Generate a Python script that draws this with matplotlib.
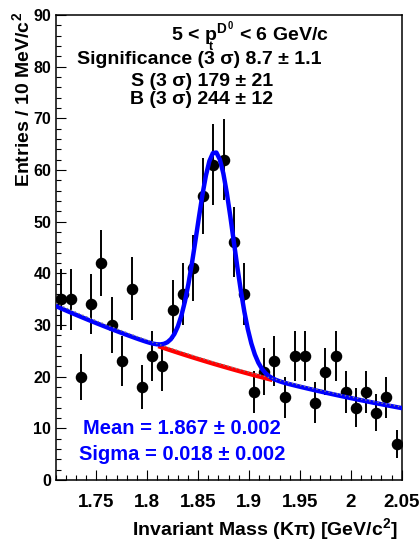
import numpy as np
import matplotlib
matplotlib.use("Agg")
import matplotlib.pyplot as plt
from matplotlib.ticker import MultipleLocator, FuncFormatter

plt.rcParams['font.family'] = ['Liberation Sans', 'DejaVu Sans']
plt.rcParams['font.weight'] = 'bold'
plt.rcParams['mathtext.fontset'] = 'custom'
plt.rcParams['mathtext.rm'] = 'Liberation Sans:bold'
plt.rcParams['mathtext.it'] = 'Liberation Sans:bold'
plt.rcParams['mathtext.bf'] = 'Liberation Sans:bold'

# K-pi invariant mass histogram, 10 MeV bins from 1.71 to 2.05
bin_lo, bin_hi, bin_w = 1.71, 2.05, 0.01
mass = np.round(np.arange(bin_lo + bin_w / 2, bin_hi, bin_w), 3)
counts = np.array([35, 35, 20, 34, 42, 30, 23, 37, 18, 24,
                   22, 33, 36, 41, 55, 61, 62, 46, 36, 17,
                   21, 23, 16, 24, 24, 15, 21, 24, 17, 14,
                   17, 13, 16, 7])
errors = np.sqrt(counts)

# gaussian + exponential background fit
fit_mean, fit_mean_err = 1.867, 0.002
fit_sigma, fit_sigma_err = 0.018, 0.002
sig_amp = 41.1
bkg_norm, bkg_slope = 33.7, -2.6
side_norm = 34.2  # sideband-only background

signif, signif_err = 8.7, 1.1
n_sig, n_sig_err = 179, 21
n_bkg, n_bkg_err = 244, 12


def bkg(m, norm=bkg_norm):
    return norm * np.exp(bkg_slope * (m - bin_lo))


def total(m):
    return bkg(m) + sig_amp * np.exp(-0.5 * ((m - fit_mean) / fit_sigma) ** 2)


W, H = 419, 541
fig = plt.figure(figsize=(W / 100, H / 100), dpi=100)
x0, x1, y0, y1 = 55.5, 401.7, 15, 480
ax = fig.add_axes([x0 / W, 1 - y1 / H, (x1 - x0) / W, (y1 - y0) / H])

ax.errorbar(mass, counts, yerr=errors, fmt='o', color='black', ms=7.3,
            elinewidth=1.4, capsize=0, zorder=3)

m_all = np.linspace(bin_lo, bin_hi, 100)
m_sig = np.linspace(fit_mean - 3 * fit_sigma, fit_mean + 3 * fit_sigma, 40)
ax.plot(m_sig, bkg(m_sig), color='red', lw=3.2, zorder=4)
ax.plot(m_all, total(m_all), color='blue', lw=3.2, zorder=5)
ax.plot(m_all, bkg(m_all, side_norm), color='gray', lw=1.0,
        ls=(0, (1, 2)), zorder=6)

ax.set_xlim(bin_lo, bin_hi)
ax.set_ylim(0, 90)
ax.xaxis.set_major_locator(MultipleLocator(0.05))
ax.xaxis.set_minor_locator(MultipleLocator(0.01))
ax.yaxis.set_major_locator(MultipleLocator(10))
ax.yaxis.set_minor_locator(MultipleLocator(2))
ax.xaxis.set_major_formatter(FuncFormatter(lambda v, p: '%g' % round(v, 2)))
ax.tick_params(which='both', direction='in', top=False, right=False, width=0.8)
ax.tick_params(which='major', length=7)
ax.tick_params(which='minor', length=3.5)
ax.tick_params(axis='x', labelsize=13.5, pad=10)
ax.tick_params(axis='y', labelsize=11.5, pad=3)
for sp in ax.spines.values():
    sp.set_linewidth(1.1)


def put(x, y, s, **kw):
    fig.text(x / W, 1 - y / H, s, ha=kw.pop('ha', 'center'),
             va=kw.pop('va', 'center'), **kw)


put(250, 34, r'5 < $p^{D^{0}}$ < 6 GeV/c', fontsize=14)
put(211, 47, 't', fontsize=9)
put(199, 60, f'Significance (3 σ) {signif} ± {signif_err}', fontsize=14)
put(202, 81, f'S (3 σ) {n_sig} ± {n_sig_err}', fontsize=14)
put(201, 100, f'B (3 σ) {n_bkg} ± {n_bkg_err}', fontsize=14)

put(182, 428, f'Mean = {fit_mean:.3f} ± {fit_mean_err:.3f}', fontsize=14.5, color='blue')
put(182, 455, f'Sigma = {fit_sigma:.3f} ± {fit_sigma_err:.3f}', fontsize=14.5, color='blue')

put(398, 529, r'Invariant Mass (Kπ) [GeV/c$^{2}$]', fontsize=14, ha='right')
put(22, 12, r'Entries / 10 MeV/c$^{2}$', fontsize=14, rotation=90, va='top')

fig.savefig('out.png', dpi=100)
